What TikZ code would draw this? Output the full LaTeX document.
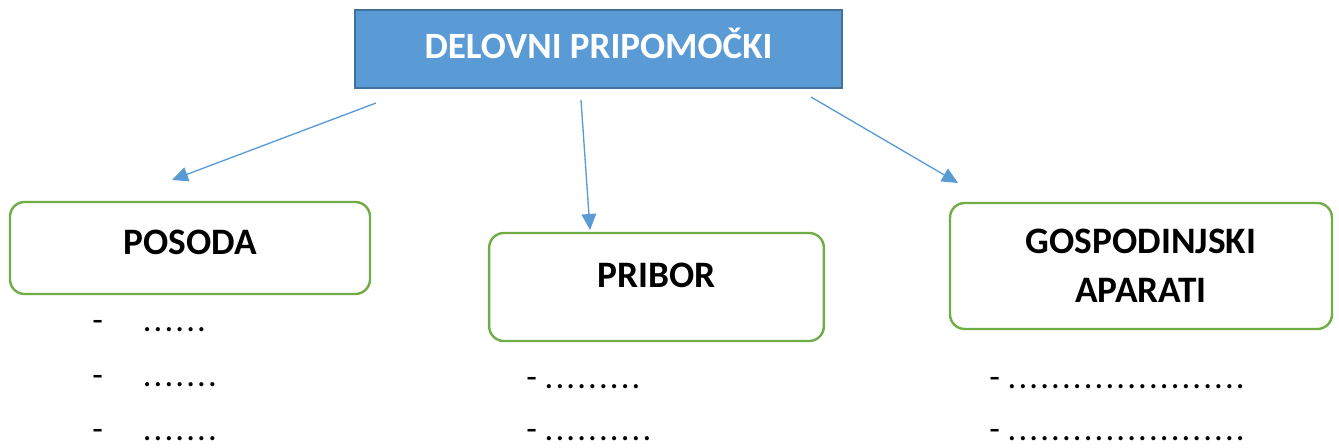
\documentclass[tikz,border=0pt]{standalone}
\usepackage{fontspec}
\setmainfont{Carlito}
\usetikzlibrary{arrows.meta}
\definecolor{topblue}{HTML}{5B9BD5}
\definecolor{topedge}{HTML}{41719C}
\definecolor{boxgreen}{HTML}{70AD47}
\newcommand{\dotrow}[1]{\foreach \k in {1,...,#1}{.\hspace{1.6pt}}}
\begin{document}
\begin{tikzpicture}[x=0.75pt,y=-0.75pt,
  topbox/.style={draw=topedge,fill=topblue,line width=1.8pt,text=white,font=\bfseries\fontsize{27.8}{34}\selectfont,minimum width=365pt,minimum height=58.5pt,text height=18pt,text depth=3pt},
  groupbox/.style={draw=boxgreen,line width=1.8pt,rounded corners=11pt,align=center,font=\bfseries\fontsize{28}{36.75}\selectfont},
  itemtext/.style={anchor=base west,inner sep=0pt,font=\fontsize{26}{30}\selectfont},
  link/.style={draw=topblue,line width=1pt,-{Triangle[length=12pt,width=11pt]}}]
\useasboundingbox (0,0) rectangle (1339,448);
\node[topbox] (tools) at (598.5,49) {DELOVNI PRIPOMOČKI};
\node[groupbox,minimum width=270pt,minimum height=69pt,text height=18pt,text depth=7.5pt] (posoda) at (190,248) {POSODA};
\node[groupbox,minimum width=251pt,minimum height=81pt,text height=18pt,text depth=16.5pt] (pribor) at (656.5,287) {PRIBOR};
\node[groupbox,minimum width=286.5pt,minimum height=94.5pt] (aparati) at (1141,266) {GOSPODINJSKI\\APARATI};

\coordinate (s1) at (376,103);
\coordinate (e1) at (172,180);
\coordinate (s2) at (581,100);
\coordinate (e2) at (590,230);
\coordinate (s3) at (811,97);
\coordinate (e3) at (958,183);
\path[link] (s1) -- (e1);
\path[link] (s2) -- (e2);
\path[link] (s3) -- (e3);

\node[itemtext] (p1) at (92,332) {-\hspace{30pt}\dotrow{6}};
\node[itemtext] (p2) at (92,387) {-\hspace{30pt}\dotrow{7}};
\node[itemtext] (p3) at (92,441) {-\hspace{30pt}\dotrow{7}};
\node[itemtext] (r1) at (526,389) {- \dotrow{9}};
\node[itemtext] (r2) at (526,441) {- \dotrow{10}};
\node[itemtext] (g1) at (989,389) {- \dotrow{22}};
\node[itemtext] (g2) at (989,441) {- \dotrow{22}};
\end{tikzpicture}
\end{document}
